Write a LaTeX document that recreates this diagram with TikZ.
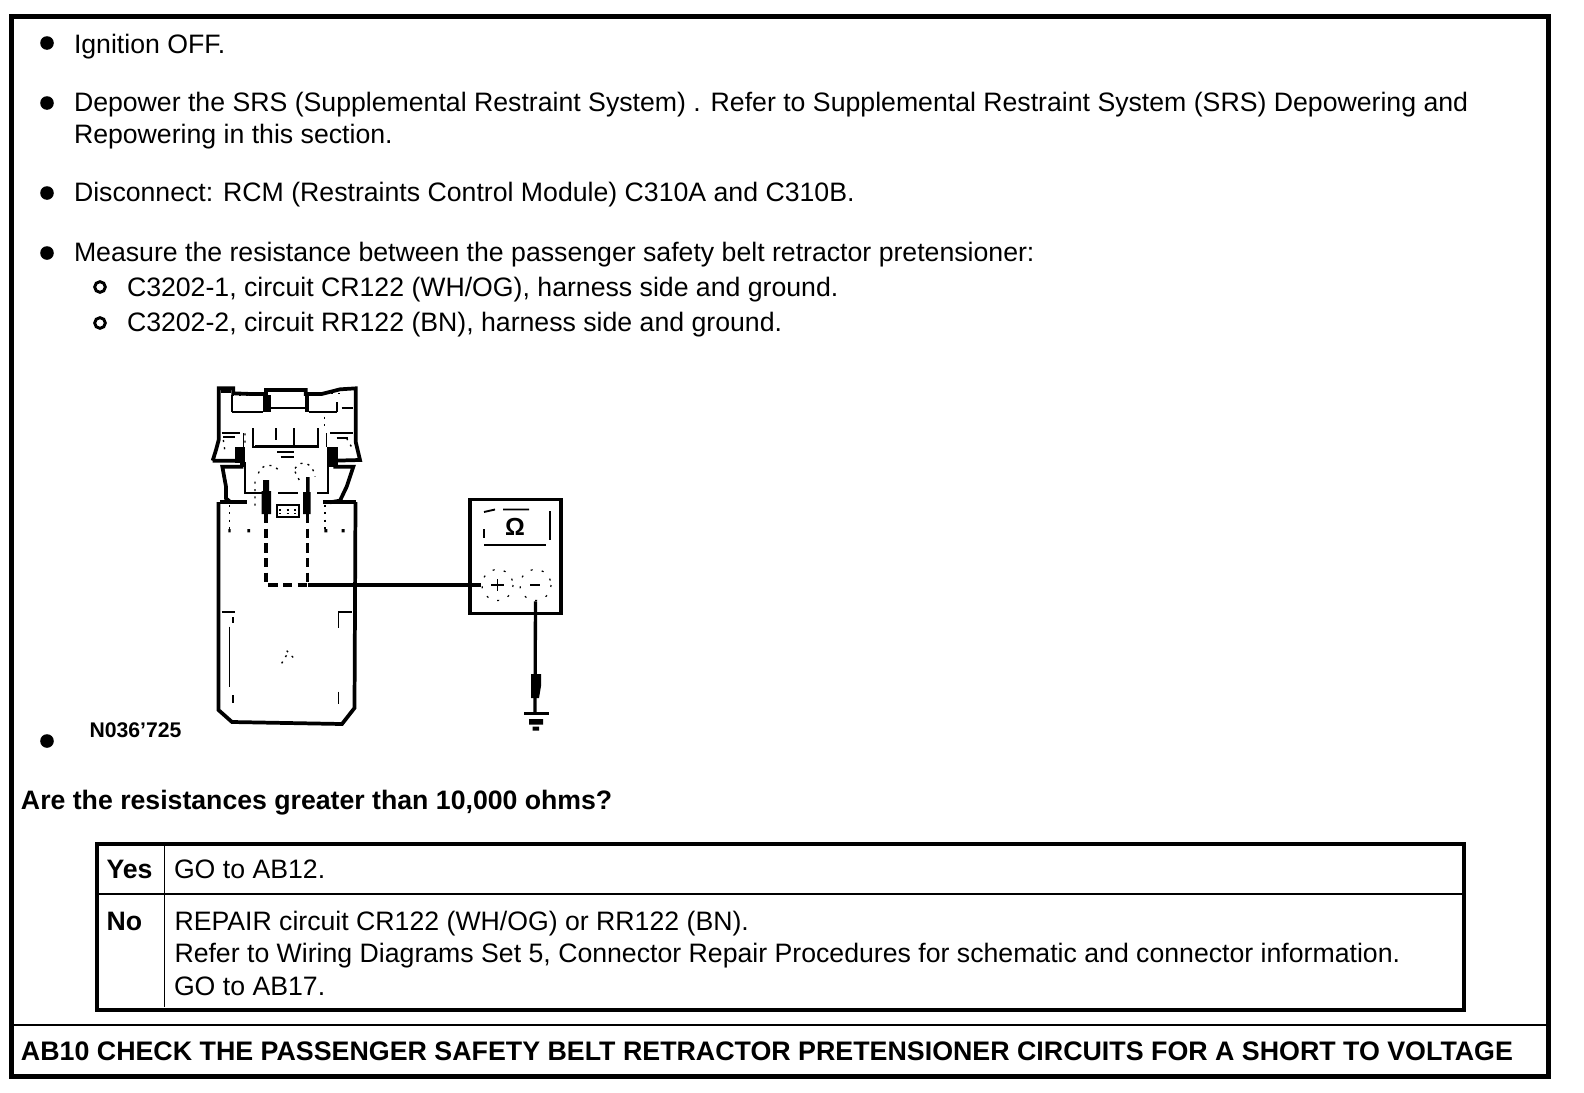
\documentclass[tikz,border=0pt]{standalone}
\usepackage{fontspec}
\setmainfont{Liberation Sans}
\tikzset{
  txt/.style={anchor=base west,inner sep=0pt,outer sep=0pt,font=\fontsize{20pt}{24pt}\selectfont},
  btxt/.style={txt,font=\fontsize{20pt}{24pt}\selectfont\bfseries},
  ttxt/.style={txt,font=\fontsize{20.1pt}{24pt}\selectfont\bfseries},
  blt/.style={circle,fill=black,inner sep=0pt,minimum size=10.2pt},
  ring/.style={circle,draw=black,line width=2.2pt,inner sep=0pt,minimum size=8pt},
  frameline/.style={line width=3.5pt,line join=miter},
  tabline/.style={line width=3pt},
  thinl/.style={line width=.8pt},
  thk/.style={line width=2.8pt,line join=miter},
  med/.style={line width=1.5pt},
  hair/.style={line width=.6pt},
  speck/.style={line width=1pt,dash pattern=on 1.5pt off 4pt},
  wire/.style={line width=2.5pt},
  dwire/.style={line width=2.5pt,dash pattern=on 7pt off 4pt},
  blk/.style={fill=black,draw=none},
}
\begin{document}
\begin{tikzpicture}[x=.75pt,y=-.75pt]
\useasboundingbox (0,0) rectangle (1584,1092);
% frame
\draw[frameline] (11.7,16.5) rectangle (1548.5,1076.5);
\coordinate (dl) at (14,1025); \coordinate (dr) at (1546,1025);
\draw[thinl] (dl) -- (dr);
% bullets
\node[blt] (b1) at (47,43) {};
\node[blt] (b2) at (47,103) {};
\node[blt] (b3) at (47,193) {};
\node[blt] (b4) at (47,253) {};
\node[blt] (b5) at (47,741) {};
\node[ring] (r1) at (100,287) {};
\node[ring] (r2) at (100,323) {};
% text
\node[txt] (t1) at (74,53.5) {Ignition OFF.};
\node[txt] (t2) at (74,111) {Depower the SRS (Supplemental Restraint System) . Refer to Supplemental Restraint System (SRS) Depowering and};
\node[txt] (t3) at (74,143) {Repowering in this section.};
\node[txt] (t4) at (74,201) {Disconnect: RCM (Restraints Control Module) C310A and C310B.};
\node[txt] (t5) at (74,261) {Measure the resistance between the passenger safety belt retractor pretensioner:};
\node[txt] (t6) at (127,296.5) {C3202-1, circuit CR122 (WH/OG), harness side and ground.};
\node[txt] (t7) at (127,331) {C3202-2, circuit RR122 (BN), harness side and ground.};
\node[btxt] (q) at (21,809) {Are the resistances greater than 10,000 ohms?};
% table
\draw[tabline] (96.5,844) rectangle (1464,1009.5);
\coordinate (v1) at (164.5,846); \coordinate (v2) at (164.5,1007);
\coordinate (h1) at (98,894); \coordinate (h2) at (1462,894);
\draw[thinl] (v1) -- (v2);
\draw[thinl] (h1) -- (h2);
\node[btxt] (yes) at (106.5,878) {Yes};
\node[txt] (yes2) at (174,878) {GO to AB12.};
\node[btxt] (no) at (106.5,930) {No};
\node[txt] (no1) at (174.5,930) {REPAIR circuit CR122 (WH/OG) or RR122 (BN).};
\node[txt] (no2) at (174.5,962.5) {Refer to Wiring Diagrams Set 5, Connector Repair Procedures for schematic and connector information.};
\node[txt] (no3) at (174,995) {GO to AB17.};
\node[ttxt] (title) at (21,1060) {AB10 CHECK THE PASSENGER SAFETY BELT RETRACTOR PRETENSIONER CIRCUITS FOR A SHORT TO VOLTAGE};
\node[txt,font=\fontsize{15.9pt}{16pt}\selectfont\bfseries] (code) at (89.5,737) {N036'725};
% module, coordinates from a 3x view
\begin{scope}[shift={(190,370)},x=.25pt,y=-.25pt]
  % top housing
  \draw[thk] (68,272) -- (135,272) (68,272) -- (78,240) -- (86,210) -- (86,55) -- (130,55) -- (130,70) -- (185,72) -- (228,72) -- (228,60) -- (347,60) -- (347,72) -- (395,72) -- (450,58) -- (497,55) -- (497,215) -- (510,270) -- (432,272);
  \fill (92,55) rectangle (122,68);
  \draw[blk] (218,75) rectangle (243,125);
  \draw[blk] (345,70) rectangle (358,125);
  \draw[blk] (135,232) rectangle (165,278);
  \draw[blk] (412,230) rectangle (445,290);
  \draw[blk] (150,275) rectangle (168,290);
  % windows
  \draw[med] (125,125) -- (220,125) (125,75) -- (125,125) (243,115) -- (345,115) (358,125) -- (440,125) (440,125) -- (440,95) (455,115) -- (490,115);
  \draw[speck] (125,75) -- (185,75) (400,70) -- (450,70) (403,140) -- (403,175);
  % inner latch
  \draw[med] (190,175) -- (190,232) -- (385,232) -- (385,175);
  \draw[hair] (160,190) -- (160,232) (410,190) -- (410,232) (195,226) -- (380,226);
  \draw[med] (95,190) -- (150,190) (420,190) -- (490,190) (258,175) -- (258,210) (312,175) -- (312,225) (262,245) -- (312,245) (272,262) -- (312,262) (100,200) -- (135,200) (440,205) -- (475,205);
  \draw[speck] (165,190) -- (165,232) (100,210) -- (105,245) (470,205) -- (490,240);
  % middle housing
  \draw[thk] (160,290) -- (97,290) -- (108,350) -- (108,385) -- (122,397);
  \draw[thk] (430,290) -- (490,290) -- (470,350) -- (450,392) -- (420,397);
  \draw[med] (165,290) -- (165,370) -- (215,370) (415,290) -- (415,370) -- (380,370);
  \draw[speck] (205,310) .. controls (215,280) and (250,280) .. (265,300) (315,295) .. controls (335,265) and (370,280) .. (375,320) (195,335) -- (195,410) (315,305) -- (330,335);
  \draw[med] (265,370) -- (325,370);
  % body
  \draw[thk] (90,397) -- (170,397) (400,397) -- (497,397);
  \draw[med] (262,405) rectangle (326,440);
  \draw[speck] (268,420) -- (322,420) (268,430) -- (322,430);
  \draw[speck] (118,405) -- (118,480) (405,405) -- (405,480);
  \fill (115,477) rectangle (122,487) (172,477) rectangle (180,487) (455,477) rectangle (464,487) (403,477) rectangle (412,487);
\end{scope}
% body outline, coordinates in page pixels
\draw[thk] (218.5,502) -- (218.5,710) -- (232,722) -- (342,724) -- (354.5,708) -- (355.5,502);
\begin{scope}[shift={(20,580)},x=.25pt,y=-.25pt]
  \draw[med] (605,95) -- (645,95) (640,112) -- (640,128) (955,95) -- (995,95) (640,345) -- (640,368);
  \draw[hair] (628,140) -- (628,320) (955,95) -- (955,145) (955,335) -- (955,372);
  \draw[speck] (800,212) -- (822,235) (785,250) -- (800,225);
\end{scope}
% probes
\fill (263,480) rectangle (269,491) (261.5,491) rectangle (271,514);
\fill (306,477) rectangle (309.5,492) (303,492) rectangle (310.5,514);
% meter
\node[draw=black,line width=2.6pt,inner sep=0pt,minimum width=91pt*.75,minimum height=114pt*.75] (meter) at (515.5,556.5) {};
\draw[line width=1.4pt] (484,512) -- (495,509.5) (503,509.5) -- (529,509.5);
\draw[line width=2pt] (484,545) -- (546,545);
\draw[line width=2pt] (484,529) -- (484,538);
\draw[line width=.8pt] (550,511) -- (550,540);
\node[inner sep=0pt,font=\fontsize{18.5pt}{20pt}\selectfont\bfseries] (ohm) at (515,527) {Ω};
\node[circle,inner sep=0pt,minimum size=24pt] (plus) at (497.5,585) {};
\node[circle,inner sep=0pt,minimum size=24pt] (minus) at (535.5,585) {};
\draw[line width=.9pt,dash pattern=on 1.5pt off 7pt] (plus.center) circle (15.5);
\draw[line width=.9pt,dash pattern=on 1.5pt off 7pt] (minus.center) circle (15.5);
\draw[line width=1.4pt] (491,585) -- (504,585) (497.5,579) -- (497.5,591);
\draw[line width=1.8pt] (530,585) -- (540,585);
% leads
\coordinate (p1) at (266,514);
\coordinate (p2) at (307.5,514);
\coordinate (j1) at (266,585);
\coordinate (j2) at (307.5,585);
\coordinate (gnd) at (535,713);
\draw[dwire] (p1) -- (j1) -- (j2);
\draw[dwire] (p2) -- (j2);
\draw[wire] (j2) -- (plus.west);
\draw[wire] (minus.south) -- (gnd);
\fill (531,674) -- (541,674) -- (541,686) -- (539,698) -- (531,698) -- cycle;
% ground
\draw[line width=2.5pt] (524,713.5) -- (549,713.5);
\fill (529,719) rectangle (543,724.5) (532.5,726.5) rectangle (539,730.5);
\end{tikzpicture}
\end{document}
